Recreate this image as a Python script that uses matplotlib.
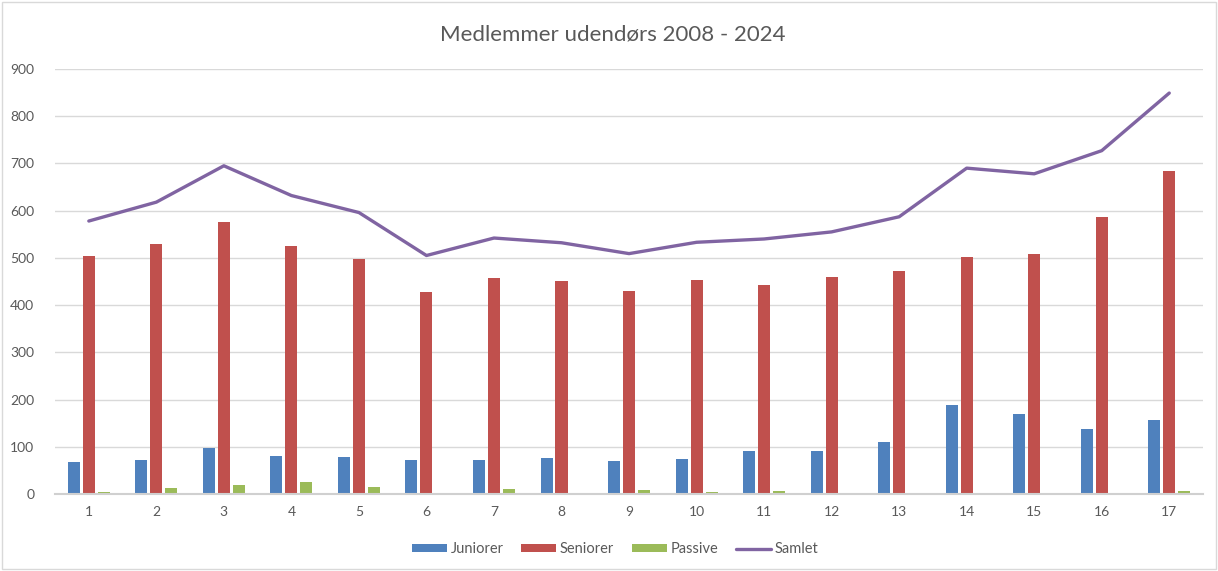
import numpy as np
import matplotlib
matplotlib.use("Agg")
import matplotlib.pyplot as plt
from matplotlib.patches import Rectangle

categories = list(range(1, 18))
juniorer = [68, 73, 98, 81, 79, 73, 71, 76, 70, 74, 91, 92, 110, 188, 169, 138, 156]
seniorer = [504, 529, 575, 525, 498, 427, 458, 450, 430, 453, 442, 459, 472, 501, 508, 587, 684]
passive = [4, 13, 19, 25, 15, 3, 10, 3, 8, 4, 6, 0, 3, 0, 0, 0, 6]
samlet = [578, 618, 695, 632, 596, 505, 542, 532, 509, 533, 540, 555, 587, 690, 678, 727, 849]

plt.rcParams["font.family"] = ["Lato", "DejaVu Sans"]

fig = plt.figure(figsize=(12.18, 5.71), dpi=100)
ax = fig.add_axes([0.0452, 0.1349, 0.9425, 0.7443])

x = np.arange(len(categories))
w = 0.178
off = 0.222
b1 = ax.bar(x - off, juniorer, width=w, color="#4F81BD", label="Juniorer", zorder=3)
b2 = ax.bar(x, seniorer, width=w, color="#C0504D", label="Seniorer", zorder=3)
b3 = ax.bar(x + off, passive, width=w, color="#9BBB59", label="Passive", zorder=3)
ln, = ax.plot(x, samlet, color="#8064A2", lw=2.4, label="Samlet", zorder=4,
              solid_capstyle="round")

ax.set_xlim(-0.5, len(categories) - 0.5)
ax.set_ylim(0, 900)
ax.set_yticks(range(0, 901, 100))
ax.set_xticks(x)
ax.set_xticklabels([str(c) for c in categories])
ax.grid(axis="y", color="#D9D9D9", lw=1, zorder=0)
for s in ["top", "right", "left"]:
    ax.spines[s].set_visible(False)
ax.spines["bottom"].set_color("#D0D0D0")
ax.spines["bottom"].set_linewidth(1.5)
ax.spines["bottom"].set_zorder(5)
ax.tick_params(length=0, labelsize=10, labelcolor="#595959")
ax.tick_params(axis="y", pad=15)
ax.tick_params(axis="x", pad=9)

fig.text(0.503, 0.94, "Medlemmer udendørs 2008 - 2024", ha="center", va="center",
         fontsize=16, color="#595959")

fig.legend([b1, b2, b3, ln], ["Juniorer", "Seniorer", "Passive", "Samlet"],
           loc="center", bbox_to_anchor=(0.505, 0.038), ncol=4, frameon=False,
           fontsize=10.5, labelcolor="#595959", handlelength=2.4, handleheight=0.5,
           columnspacing=1.2, handletextpad=0.25)

fig.patches.append(Rectangle((0.002, 0.003), 0.996, 0.994, transform=fig.transFigure,
                             fill=False, edgecolor="#D9D9D9", lw=1))

fig.savefig("out.png", dpi=100)
